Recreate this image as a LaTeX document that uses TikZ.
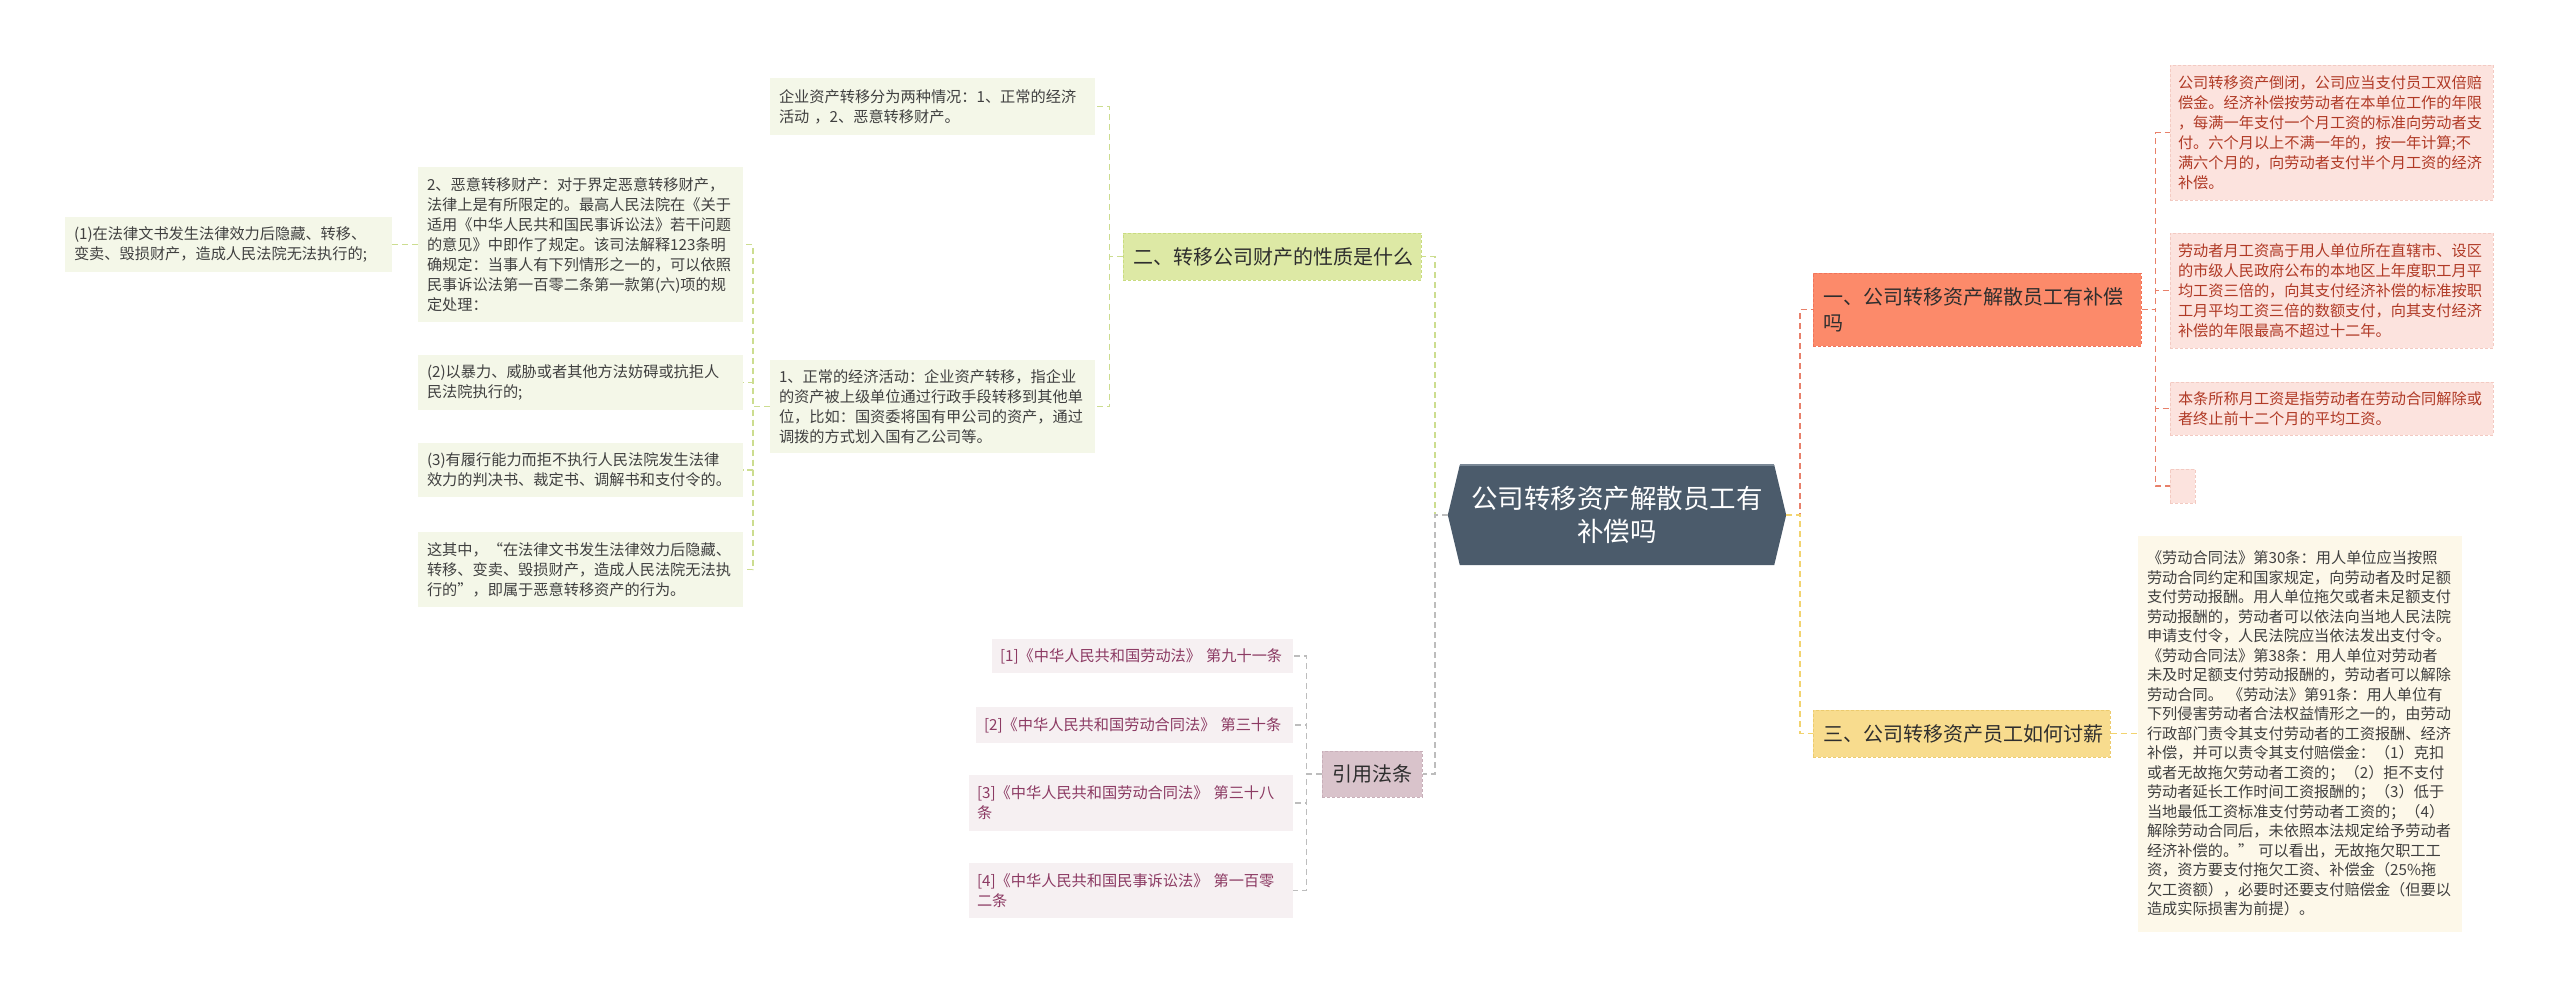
\documentclass[tikz,border=0pt]{standalone}
\usepackage{fontspec}
\setmainfont{Noto Sans CJK SC}
\usetikzlibrary{backgrounds,calc}
\definecolor{gleafc}{HTML}{F4F7E8}
\definecolor{pleafc}{HTML}{FCE3DE}
\definecolor{pleafb}{HTML}{F3CAC2}
\definecolor{cleafc}{HTML}{FDF8E9}
\definecolor{rleafc}{HTML}{F6F0F2}
\definecolor{txtc}{HTML}{404040}
\definecolor{ptxt}{HTML}{B03A26}
\definecolor{rtxt}{HTML}{8C3A63}
\definecolor{ltxt}{HTML}{2E2E2E}
\definecolor{greenfill}{HTML}{DDE9A5}
\definecolor{greenbd}{HTML}{C9DC7F}
\definecolor{salmonfill}{HTML}{FC8A6A}
\definecolor{salmonbd}{HTML}{F0735A}
\definecolor{yelfill}{HTML}{F8DC8E}
\definecolor{yelbd}{HTML}{ECCB6E}
\definecolor{citefill}{HTML}{D9C3CB}
\definecolor{citebd}{HTML}{C8AFB9}
\definecolor{rootc}{HTML}{4B5B6B}
\definecolor{roottop}{HTML}{7A8896}
\definecolor{greenl}{HTML}{CCDD90}
\definecolor{grayl}{HTML}{BDBDBD}
\definecolor{redl}{HTML}{E8806A}
\definecolor{yell}{HTML}{F2D36E}
\begin{document}
\begin{tikzpicture}[x=1pt,y=-1pt,every node/.style={inner sep=0pt}]
\tikzset{
  base/.style={rectangle, align=left, inner xsep=9pt, inner ysep=0pt},
  sm/.style={font=\fontsize{15.2}{20}\selectfont},
  gleaf/.style={base, sm, fill=gleafc, text=txtc},
  pleaf/.style={base, sm, fill=pleafc, draw=pleafb, dash pattern=on 3pt off 2pt, line width=0.8pt, text=ptxt, inner xsep=8pt},
  cleaf/.style={base, font=\fontsize{15.2}{19.5}\selectfont, fill=cleafc, text=txtc},
  rleaf/.style={base, sm, fill=rleafc, text=rtxt, inner xsep=8pt},
  lvone/.style={base, font=\fontsize{20}{26}\selectfont, inner xsep=10pt, dash pattern=on 3pt off 2pt, line width=1pt, text=ltxt},
  link/.style={line width=1.5pt, dash pattern=on 6pt off 4pt},
}
\useasboundingbox (0,0) rectangle (2560,996);

% root
\node[font=\fontsize{26.5}{33}\selectfont, text=white, align=center, minimum width=314pt, minimum height=100pt] (root) at (1617,515) {公司转移资产解散员工有\\补偿吗};
\begin{scope}[on background layer]
\fill[rootc] (root.north west) -- (root.north east) -- ($(root.east)+(12,0)$) -- (root.south east) -- (root.south west) -- ($(root.west)+(-12,0)$) -- cycle;
\draw[roottop, line width=1.5pt] (root.north west) -- (root.north east);
\end{scope}
\coordinate (rootL) at ($(root.west)+(-12,0)$);
\coordinate (rootR) at ($(root.east)+(12,0)$);

% level one
\node[lvone, fill=greenfill, draw=greenbd, minimum width=298pt, minimum height=47pt, text width=278pt] (n2) at (1272,256.5) {二、转移公司财产的性质是什么};
\node[lvone, fill=citefill, draw=citebd, minimum width=100pt, minimum height=46pt, text width=80pt] (cite) at (1372,774) {引用法条};
\node[lvone, fill=salmonfill, draw=salmonbd, minimum width=328pt, minimum height=73pt, text width=308pt] (n1) at (1977,309.5) {一、公司转移资产解散员工有补偿\\吗};
\node[lvone, fill=yelfill, draw=yelbd, minimum width=297pt, minimum height=47pt, text width=277pt] (n3) at (1961.5,733.5) {三、公司转移资产员工如何讨薪};

% left green branch
\node[gleaf, minimum width=325pt, minimum height=57pt, text width=307pt] (leaf1) at (932.5,106.5) {企业资产转移分为两种情况：1、正常的经济\\活动 ，2、恶意转移财产。};
\node[gleaf, minimum width=325pt, minimum height=93pt, text width=307pt] (leaf8) at (932.5,406.5) {1、正常的经济活动：企业资产转移，指企业\\的资产被上级单位通过行政手段转移到其他单\\位，比如：国资委将国有甲公司的资产，通过\\调拨的方式划入国有乙公司等。};
\node[gleaf, minimum width=325pt, minimum height=155pt, text width=307pt] (mal) at (580.5,244.5) {2、恶意转移财产：对于界定恶意转移财产，\\法律上是有所限定的。最高人民法院在《关于\\适用《中华人民共和国民事诉讼法》若干问题\\的意见》中即作了规定。该司法解释123条明\\确规定：当事人有下列情形之一的，可以依照\\民事诉讼法第一百零二条第一款第(六)项的规\\定处理：};
\node[gleaf, minimum width=327pt, minimum height=55pt, text width=309pt] (p1) at (228.5,244.5) {(1)在法律文书发生法律效力后隐藏、转移、\\变卖、毁损财产，造成人民法院无法执行的;};
\node[gleaf, minimum width=325pt, minimum height=55pt, text width=307pt] (p2) at (580.5,382.5) {(2)以暴力、威胁或者其他方法妨碍或抗拒人\\民法院执行的;};
\node[gleaf, minimum width=325pt, minimum height=54pt, text width=307pt] (p3) at (580.5,470) {(3)有履行能力而拒不执行人民法院发生法律\\效力的判决书、裁定书、调解书和支付令的。};
\node[gleaf, minimum width=325pt, minimum height=75pt, text width=307pt] (p4) at (580.5,569.5) {这其中，“在法律文书发生法律效力后隐藏、\\转移、变卖、毁损财产，造成人民法院无法执\\行的”，即属于恶意转移资产的行为。};

% citations
\node[rleaf, minimum width=301pt, minimum height=34pt, text width=285pt] (ci1) at (1142.5,656) {[1]《中华人民共和国劳动法》 第九十一条};
\node[rleaf, minimum width=317pt, minimum height=36pt, text width=301pt] (ci2) at (1134.5,725) {[2]《中华人民共和国劳动合同法》 第三十条};
\node[rleaf, minimum width=324pt, minimum height=56pt, text width=308pt] (ci3) at (1131,803) {[3]《中华人民共和国劳动合同法》 第三十八\\条};
\node[rleaf, minimum width=324pt, minimum height=55pt, text width=308pt] (ci4) at (1131,890.5) {[4]《中华人民共和国民事诉讼法》 第一百零\\二条};

% right pink branch
\node[pleaf, minimum width=323pt, minimum height=135pt, text width=307pt] (pkA) at (2331.5,132.5) {公司转移资产倒闭，公司应当支付员工双倍赔\\偿金。经济补偿按劳动者在本单位工作的年限\\，每满一年支付一个月工资的标准向劳动者支\\付。六个月以上不满一年的，按一年计算;不\\满六个月的，向劳动者支付半个月工资的经济\\补偿。};
\node[pleaf, minimum width=323pt, minimum height=115pt, text width=307pt] (pkB) at (2331.5,290.5) {劳动者月工资高于用人单位所在直辖市、设区\\的市级人民政府公布的本地区上年度职工月平\\均工资三倍的，向其支付经济补偿的标准按职\\工月平均工资三倍的数额支付，向其支付经济\\补偿的年限最高不超过十二年。};
\node[pleaf, minimum width=323pt, minimum height=53pt, text width=307pt] (pkC) at (2331.5,408.5) {本条所称月工资是指劳动者在劳动合同解除或\\者终止前十二个月的平均工资。};
\node[pleaf, minimum width=25pt, minimum height=34pt, text width=9pt] (pkD) at (2182.5,486) {};

% right yellow branch
\node[cleaf, minimum width=324pt, minimum height=396pt, text width=306pt] (cream) at (2300,733.5) {《劳动合同法》第30条：用人单位应当按照\\劳动合同约定和国家规定，向劳动者及时足额\\支付劳动报酬。用人单位拖欠或者未足额支付\\劳动报酬的，劳动者可以依法向当地人民法院\\申请支付令，人民法院应当依法发出支付令。\\ 《劳动合同法》第38条：用人单位对劳动者\\未及时足额支付劳动报酬的，劳动者可以解除\\劳动合同。 《劳动法》第91条：用人单位有\\下列侵害劳动者合法权益情形之一的，由劳动\\行政部门责令其支付劳动者的工资报酬、经济\\补偿，并可以责令其支付赔偿金：（1）克扣\\或者无故拖欠劳动者工资的；（2）拒不支付\\劳动者延长工作时间工资报酬的；（3）低于\\当地最低工资标准支付劳动者工资的；（4）\\解除劳动合同后，未依照本法规定给予劳动者\\经济补偿的。” 可以看出，无故拖欠职工工\\资，资方要支付拖欠工资、补偿金（25\%拖\\欠工资额），必要时还要支付赔偿金（但要以\\造成实际损害为前提）。};

% connectors
\draw[link, greenl] (rootL) -- ++(-13,0) |- (n2.east);
\draw[link, grayl] (rootL) -- ++(-13,0) |- (cite.east);
\draw[link, redl] (rootR) -- ++(14,0) |- (n1.west);
\draw[link, yell] (rootR) -- ++(14,0) |- (n3.west);
\foreach \c in {leaf1,leaf8} \draw[link, greenl] (n2.west) -- ++(-13,0) |- (\c.east);
\foreach \c in {mal,p2,p3,p4} \draw[link, greenl] (leaf8.west) -- ++(-17,0) |- (\c.east);
\draw[link, greenl] (mal.west) -- (p1.east);
\foreach \c in {pkA,pkB,pkC,pkD} \draw[link, redl] (n1.east) -- ++(14,0) |- (\c.west);
\draw[link, yell] (n3.east) -- ++(14,0) |- (cream.west);
\foreach \c in {ci1,ci2,ci3,ci4} \draw[link, grayl] (cite.west) -- ++(-15,0) |- (\c.east);
\end{tikzpicture}
\end{document}
